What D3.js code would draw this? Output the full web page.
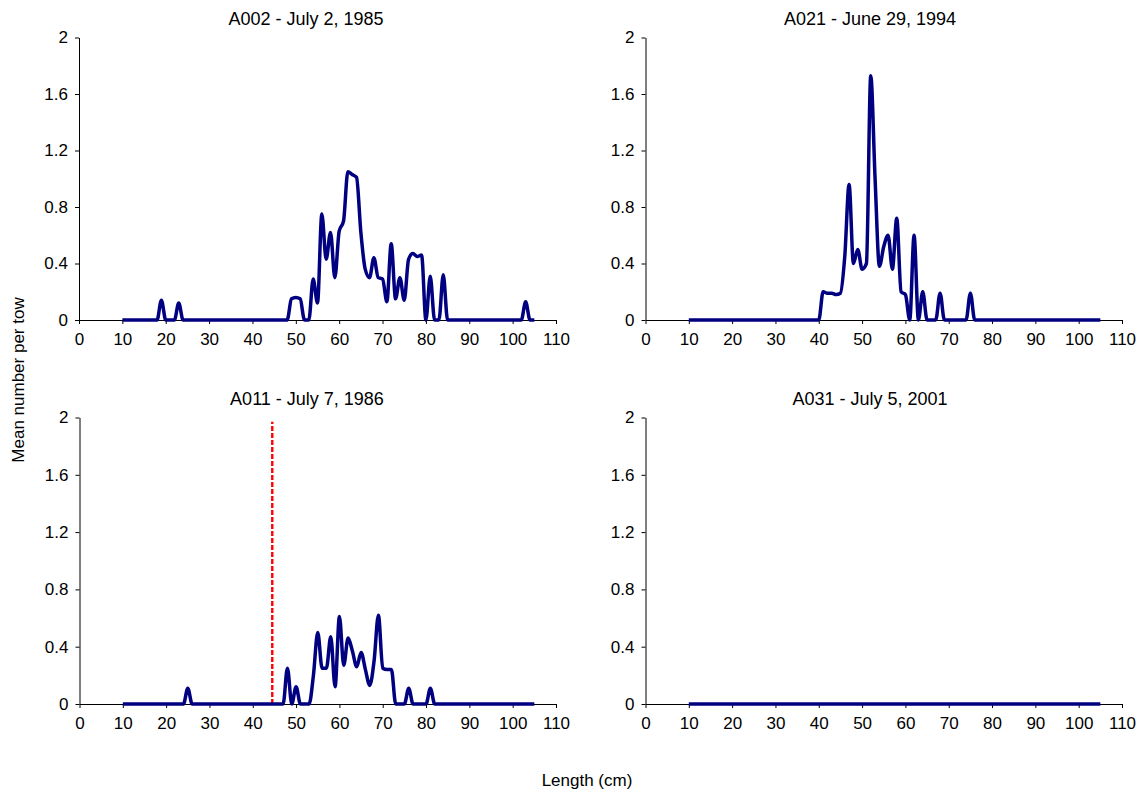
<!DOCTYPE html>
<html lang="en">
    <head>
        <meta charset="utf-8">
        <title>Mean number per tow by length</title>
        <script type="text/javascript" src="https://d3js.org/d3.v7.min.js"></script>

        <style type="text/css">
            body {
                margin: 0;
                background-color: #ffffff;
            }

            text {
                font-family: "Liberation Sans", Arial, Helvetica, sans-serif;
                fill: #000000;
            }

            .axis path,
            .axis line {
                stroke: #000000;
                stroke-width: 1px;
            }

            .axis text {
                font-size: 17px;
            }

            .panel_title {
                font-size: 18px;
            }

            .axis_title {
                font-size: 17px;
            }
        </style>
    </head>

    <body>
        <svg width="1143" height="796" id="chart"></svg>

        <script type="text/javascript">

            // length classes (cm)
            const lengths = [10, 11, 12, 13, 14, 15, 16, 17, 18, 19,
                             20, 21, 22, 23, 24, 25, 26, 27, 28, 29,
                             30, 31, 32, 33, 34, 35, 36, 37, 38, 39,
                             40, 41, 42, 43, 44, 45, 46, 47, 48, 49,
                             50, 51, 52, 53, 54, 55, 56, 57, 58, 59,
                             60, 61, 62, 63, 64, 65, 66, 67, 68, 69,
                             70, 71, 72, 73, 74, 75, 76, 77, 78, 79,
                             80, 81, 82, 83, 84, 85, 86, 87, 88, 89,
                             90, 91, 92, 93, 94, 95, 96, 97, 98, 99,
                             100, 101, 102, 103, 104, 105];

            // mean number per tow, one value per length class
            const a002 = [0, 0, 0, 0, 0, 0, 0, 0, 0, 0.14,
                          0, 0, 0, 0.12, 0, 0, 0, 0, 0, 0,
                          0, 0, 0, 0, 0, 0, 0, 0, 0, 0,
                          0, 0, 0, 0, 0, 0, 0, 0, 0, 0.15,
                          0.16, 0.15, 0, 0, 0.29, 0.12, 0.75, 0.43, 0.62, 0.30,
                          0.63, 0.70, 1.05, 1.03, 1.01, 0.62, 0.36, 0.30, 0.44, 0.30,
                          0.29, 0.13, 0.54, 0.15, 0.30, 0.14, 0.43, 0.47, 0.45, 0.46,
                          0, 0.31, 0, 0, 0.32, 0, 0, 0, 0, 0,
                          0, 0, 0, 0, 0, 0, 0, 0, 0, 0,
                          0, 0, 0, 0.13, 0, 0];

            const a021 = [0, 0, 0, 0, 0, 0, 0, 0, 0, 0,
                          0, 0, 0, 0, 0, 0, 0, 0, 0, 0,
                          0, 0, 0, 0, 0, 0, 0, 0, 0, 0,
                          0, 0.20, 0.19, 0.19, 0.18, 0.19, 0.45, 0.96, 0.40, 0.50,
                          0.36, 0.40, 1.73, 1.00, 0.38, 0.52, 0.60, 0.36, 0.72, 0.20,
                          0.18, 0, 0.60, 0, 0.20, 0, 0, 0, 0.19, 0,
                          0, 0, 0, 0, 0, 0.19, 0, 0, 0, 0,
                          0, 0, 0, 0, 0, 0, 0, 0, 0, 0,
                          0, 0, 0, 0, 0, 0, 0, 0, 0, 0,
                          0, 0, 0, 0, 0, 0];

            const a011 = [0, 0, 0, 0, 0, 0, 0, 0, 0, 0,
                          0, 0, 0, 0, 0, 0.11, 0, 0, 0, 0,
                          0, 0, 0, 0, 0, 0, 0, 0, 0, 0,
                          0, 0, 0, 0, 0, 0, 0, 0, 0.25, 0,
                          0.12, 0, 0, 0, 0.20, 0.50, 0.25, 0.25, 0.47, 0.12,
                          0.61, 0.27, 0.46, 0.37, 0.26, 0.36, 0.24, 0.13, 0.30, 0.62,
                          0.25, 0.24, 0.24, 0, 0, 0, 0.11, 0, 0, 0,
                          0, 0.11, 0, 0, 0, 0, 0, 0, 0, 0,
                          0, 0, 0, 0, 0, 0, 0, 0, 0, 0,
                          0, 0, 0, 0, 0, 0];

            const a031 = [0, 0, 0, 0, 0, 0, 0, 0, 0, 0,
                          0, 0, 0, 0, 0, 0, 0, 0, 0, 0,
                          0, 0, 0, 0, 0, 0, 0, 0, 0, 0,
                          0, 0, 0, 0, 0, 0, 0, 0, 0, 0,
                          0, 0, 0, 0, 0, 0, 0, 0, 0, 0,
                          0, 0, 0, 0, 0, 0, 0, 0, 0, 0,
                          0, 0, 0, 0, 0, 0, 0, 0, 0, 0,
                          0, 0, 0, 0, 0, 0, 0, 0, 0, 0,
                          0, 0, 0, 0, 0, 0, 0, 0, 0, 0,
                          0, 0, 0, 0, 0, 0];

            const titles = ["A002 - July 2, 1985", "A021 - June 29, 1994",
                            "A011 - July 7, 1986", "A031 - July 5, 2001"];

            // red dashed reference line in the A011 panel
            const refLength = [44.5, 44.5];
            const refValue = [0, 1.97];

            // axis ticks
            const xTicks = [0, 10, 20, 30, 40, 50, 60, 70, 80, 90, 100, 110];
            const yTicks = [0, 0.4, 0.8, 1.2, 1.6, 2];
            const yTickLabels = ["0", "0.4", "0.8", "1.2", "1.6", "2"];


            const svg = d3.select("#chart");

            // pixel frame of each plot area (left, right, top, bottom)
            const panels = [
                { values: a002, title: titles[0], x0: 79,    x1: 556,  top: 37.5,  bottom: 320, tx: 306 },
                { values: a021, title: titles[1], x0: 645.5, x1: 1122, top: 37.5,  bottom: 320, tx: 870 },
                { values: a011, title: titles[2], x0: 79.5,  x1: 556,  top: 417.5, bottom: 704, tx: 307 },
                { values: a031, title: titles[3], x0: 645.5, x1: 1122, top: 417.5, bottom: 704, tx: 870 }
            ];

            panels.forEach(function (p, k) {

                const xScale = d3.scaleLinear()
                                 .domain([0, 110])
                                 .range([p.x0, p.x1]);

                const yScale = d3.scaleLinear()
                                 .domain([0, 2])
                                 .range([p.bottom, p.top]);

                const bottomAxis = d3.axisBottom(xScale)
                                     .tickValues(xTicks)
                                     .tickSize(4)
                                     .tickSizeOuter(0)
                                     .tickPadding(9)
                                     .tickFormat(d3.format("d"));

                const leftAxis = d3.axisLeft(yScale)
                                   .tickValues(yTicks)
                                   .tickSize(4)
                                   .tickSizeOuter(0)
                                   .tickPadding(7)
                                   .tickFormat((d, i) => yTickLabels[i]);

                // x axis
                svg.append("g")
                    .attr("class", "axis")
                    .attr("transform", "translate(0," + p.bottom + ")")
                    .call(bottomAxis);

                // y axis
                svg.append("g")
                    .attr("class", "axis")
                    .attr("transform", "translate(" + p.x0 + ",0)")
                    .call(leftAxis);

                // panel title
                svg.append("text")
                    .attr("class", "panel_title")
                    .attr("x", p.tx)
                    .attr("y", p.top - 13)
                    .attr("text-anchor", "middle")
                    .text(p.title);

                // reference line, only in the A011 panel
                if (k === 2) {
                    svg.append("line")
                        .attr("x1", xScale(refLength[0]))
                        .attr("x2", xScale(refLength[1]))
                        .attr("y1", yScale(refValue[0]))
                        .attr("y2", yScale(refValue[1]))
                        .style("stroke", "#ff0000")
                        .style("stroke-width", 2.4)
                        .style("stroke-dasharray", "5,2");
                }

                // smoothed length-frequency line
                const line = d3.line()
                               .x((d, i) => xScale(lengths[i]))
                               .y(d => yScale(d))
                               .curve(d3.curveMonotoneX);

                svg.append("path")
                    .datum(p.values)
                    .attr("d", line)
                    .style("fill", "none")
                    .style("stroke", "#000080")
                    .style("stroke-width", 3.5)
                    .style("stroke-linejoin", "round");
            });

            // shared axis titles
            svg.append("text")
                .attr("class", "axis_title")
                .attr("text-anchor", "middle")
                .attr("transform", "translate(24,380) rotate(-90)")
                .text("Mean number per tow");

            svg.append("text")
                .attr("class", "axis_title")
                .attr("text-anchor", "middle")
                .attr("x", 587)
                .attr("y", 786)
                .text("Length (cm)");

        </script>
    </body>
</html>
